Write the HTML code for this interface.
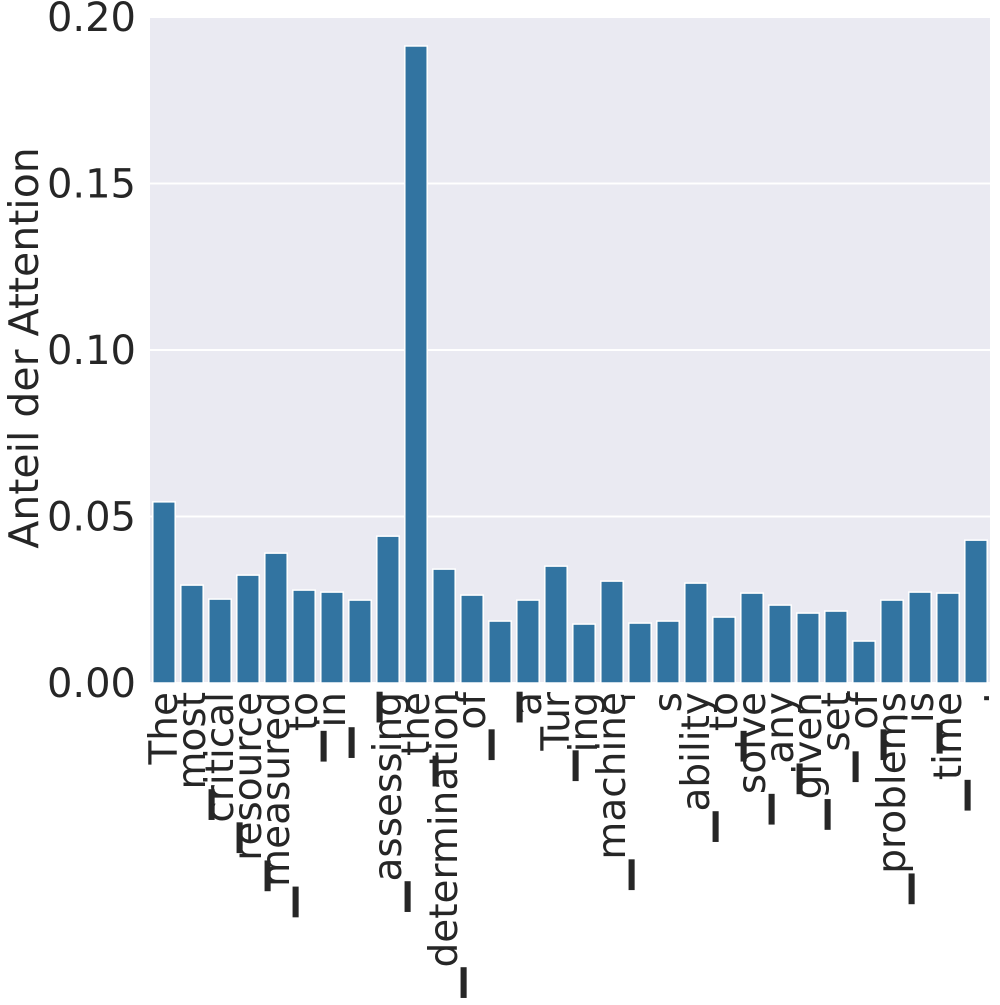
<!DOCTYPE html>
<html><head><meta charset="utf-8">
<style>
html,body{margin:0;padding:0;background:#fff;}
svg text{font-family:"DejaVu Sans","Liberation Sans",sans-serif;fill:#262626;}
</style></head>
<body>
<svg id="chart" width="1000" height="1000" viewBox="0 0 1000 1000" xmlns="http://www.w3.org/2000/svg">
<rect x="150" y="17" width="840" height="666" fill="#eaeaf2"/>
<g id="grid"></g>
<g id="bars"></g>
<g id="yticks"></g>
<g id="xticks"></g>
<text x="0" y="0" font-size="41" text-anchor="middle" transform="translate(38,348) rotate(-90)">Anteil der Attention</text>
</svg>
<script>
const categories = ["The","▁most","▁critical","▁resource","▁measured","▁to","▁in","▁","▁assessing","▁the","▁determination","▁of","▁","a","▁Tur","ing","▁machine","'","s","▁ability","▁to","▁solve","▁any","▁given","▁set","▁of","▁problems","▁is","▁time","."];
const values = [0.0544,0.0294,0.0252,0.0324,0.039,0.0279,0.0273,0.0249,0.0441,0.1913,0.0342,0.0264,0.0186,0.0249,0.0351,0.0177,0.0306,0.018,0.0186,0.030,0.0198,0.027,0.0234,0.021,0.0216,0.0126,0.0249,0.0273,0.027,0.0429];
const yTicks = [0,0.05,0.10,0.15,0.20];
const yTickLabels = ["0.00","0.05","0.10","0.15","0.20"];
const NS="http://www.w3.org/2000/svg";
const X0=150,X1=990,Y0=683,Y1=17,YMAX=0.20;
function y(v){return Y0-(v/YMAX)*(Y0-Y1);}
const band=(X1-X0)/categories.length;
function xc(i){return X0+band*(i+0.5);}
function mk(t){return document.createElementNS(NS,t);}
const grid=document.getElementById('grid'),bars=document.getElementById('bars'),yt=document.getElementById('yticks'),xt=document.getElementById('xticks');
yTicks.forEach((v,i)=>{
  const l=mk('line');
  
  
  l.setAttribute('x1',X0);l.setAttribute('x2',X1);l.setAttribute('y1',y(v));l.setAttribute('y2',y(v));
  l.setAttribute('stroke','#fff');l.setAttribute('stroke-width','2');
  grid.appendChild(l);
  const t=mk('text');
  
  
  t.setAttribute('x',136);t.setAttribute('y',y(v)+14);
  t.setAttribute('font-size','40');t.setAttribute('text-anchor','end');
  t.textContent=yTickLabels[i];
  yt.appendChild(t);
});
values.forEach((v,i)=>{
  const r=mk('rect');
  
  
  const w=band*0.8;
  r.setAttribute('x',xc(i)-w/2);r.setAttribute('width',w);
  r.setAttribute('y',y(v));r.setAttribute('height',Y0-y(v));
  r.setAttribute('fill','#3274a1');r.setAttribute('stroke','#fff');r.setAttribute('stroke-width','1.5');
  bars.appendChild(r);
  const t=mk('text');
  
  
  t.setAttribute('font-size','39');t.setAttribute('text-anchor','end');
  t.setAttribute('transform','translate('+(xc(i)+13)+',692) rotate(-90)');
  t.textContent=categories[i];
  xt.appendChild(t);
});
</script>
</body></html>
